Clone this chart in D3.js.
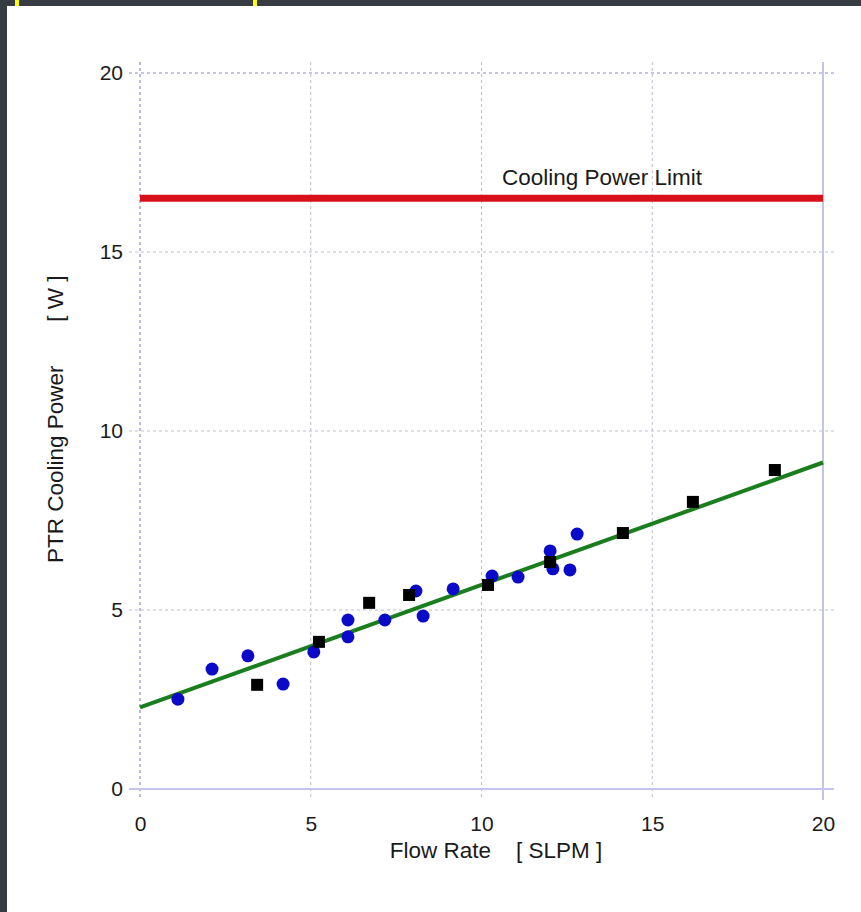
<!DOCTYPE html>
<html lang="en">
<head>
<meta charset="utf-8">
<title>PTR Cooling Power vs Flow Rate</title>
<script src="https://d3js.org/d3.v7.min.js"></script>
<style>
  body { margin: 0; background: #363c41; }
  text { font-family: "Liberation Sans", Arial, Helvetica, sans-serif; fill: #1a1a1a; }
</style>
</head>
<body>
<svg id="chart" width="861" height="912"></svg>
<script>
// data
var circleX = [1.11, 2.11, 3.16, 4.19, 5.09, 6.09, 6.09, 7.17, 8.08, 8.29, 9.17, 10.31, 11.07, 12.01, 12.09, 12.59, 12.80]
var circleY = [2.51, 3.35, 3.72, 2.93, 3.83, 4.72, 4.25, 4.72, 5.53, 4.83, 5.59, 5.95, 5.92, 6.65, 6.15, 6.12, 7.12]
var squareX = [3.43, 5.24, 6.71, 7.88, 10.19, 12.01, 14.14, 16.19, 18.59]
var squareY = [2.91, 4.11, 5.20, 5.42, 5.70, 6.34, 7.15, 8.02, 8.91]
var fitX = [0, 20]
var fitY = [2.28, 9.12]
var limitX = [0, 20]
var limitY = [16.5, 16.5]
var xTicks = [0, 5, 10, 15, 20]
var yTicks = [0, 5, 10, 15, 20]

var svg = d3.select("#chart")

// white panel and the little yellow marks at the top
svg.append("rect").attr("x", 7).attr("y", 6).attr("width", 854).attr("height", 906).attr("fill", "#ffffff")
svg.append("rect").attr("x", 15).attr("y", 0).attr("width", 4).attr("height", 6).attr("fill", "#ffff00")
svg.append("rect").attr("x", 253).attr("y", 0).attr("width", 4).attr("height", 6).attr("fill", "#ffff00")

var x = d3.scaleLinear().domain([0, 20]).range([140, 823])
var y = d3.scaleLinear().domain([0, 20]).range([789, 73])
var ext = 11

// grid lines (they stick out past the frame like ticks)
function gridStyle(sel, v, last) {
  if (v === 0 && last === "h") return sel.attr("stroke", "#c4c4ee").attr("stroke-width", 2)
  if (v === 20 && last === "v") return sel.attr("stroke", "#c4c4e4").attr("stroke-width", 2)
  if (v === 0 || v === 20) return sel.attr("stroke", "#8a8ae0").attr("stroke-width", 1.2).attr("stroke-dasharray", "3,3")
  return sel.attr("stroke", "#bcbccc").attr("stroke-width", 1).attr("stroke-dasharray", "3,3")
}

svg.append("g").selectAll("line").data(xTicks).enter().append("line")
  .attr("x1", function(d) { return x(d) }).attr("x2", function(d) { return x(d) })
  .attr("y1", y(20) - ext).attr("y2", y(0) + ext)
  .each(function(d) { gridStyle(d3.select(this), d, "v") })

svg.append("g").selectAll("line").data(yTicks).enter().append("line")
  .attr("y1", function(d) { return y(d) }).attr("y2", function(d) { return y(d) })
  .attr("x1", x(0) - ext).attr("x2", x(20) + ext)
  .each(function(d) { gridStyle(d3.select(this), d, "h") })

// tick labels
var xAxis = svg.append("g").attr("transform", "translate(0," + y(0) + ")")
  .call(d3.axisBottom(x).tickValues(xTicks).tickSize(0).tickPadding(27).tickFormat(d3.format("d")))
xAxis.select(".domain").remove()
xAxis.selectAll("text").style("font-size", "21px")

var yAxis = svg.append("g").attr("transform", "translate(" + x(0) + ",0)")
  .call(d3.axisLeft(y).tickValues(yTicks).tickSize(0).tickPadding(17).tickFormat(d3.format("d")))
yAxis.select(".domain").remove()
yAxis.selectAll("text").style("font-size", "21px")

// cooling power limit
var line = d3.line().x(function(d) { return x(d[0]) }).y(function(d) { return y(d[1]) })
svg.append("path").datum(d3.zip(limitX, limitY)).attr("d", line)
  .attr("stroke", "#d8101a").attr("stroke-width", 7).attr("fill", "none")
svg.append("text").attr("x", 602).attr("y", 185).attr("text-anchor", "middle")
  .style("font-size", "22.5px").text("Cooling Power Limit")

// fit line
svg.append("path").datum(d3.zip(fitX, fitY)).attr("d", line)
  .attr("stroke", "#1a7d1e").attr("stroke-width", 4).attr("fill", "none")

// measured points
svg.append("g").selectAll("circle").data(d3.zip(circleX, circleY)).enter().append("circle")
  .attr("cx", function(d) { return x(d[0]) }).attr("cy", function(d) { return y(d[1]) })
  .attr("r", 6.5).attr("fill", "#0a0ac8")

var s = 12
svg.append("g").selectAll("rect").data(d3.zip(squareX, squareY)).enter().append("rect")
  .attr("x", function(d) { return x(d[0]) - s / 2 }).attr("y", function(d) { return y(d[1]) - s / 2 })
  .attr("width", s).attr("height", s).attr("fill", "#000000")

// axis titles
svg.append("text").attr("x", 496).attr("y", 858).attr("text-anchor", "middle")
  .style("font-size", "22.5px").style("white-space", "pre").text("Flow Rate    [ SLPM ]")
svg.append("text").attr("transform", "translate(63,563) rotate(-90)").attr("text-anchor", "start")
  .style("font-size", "22.5px").style("white-space", "pre").text("PTR Cooling Power       [ W ]")
</script>
</body>
</html>
